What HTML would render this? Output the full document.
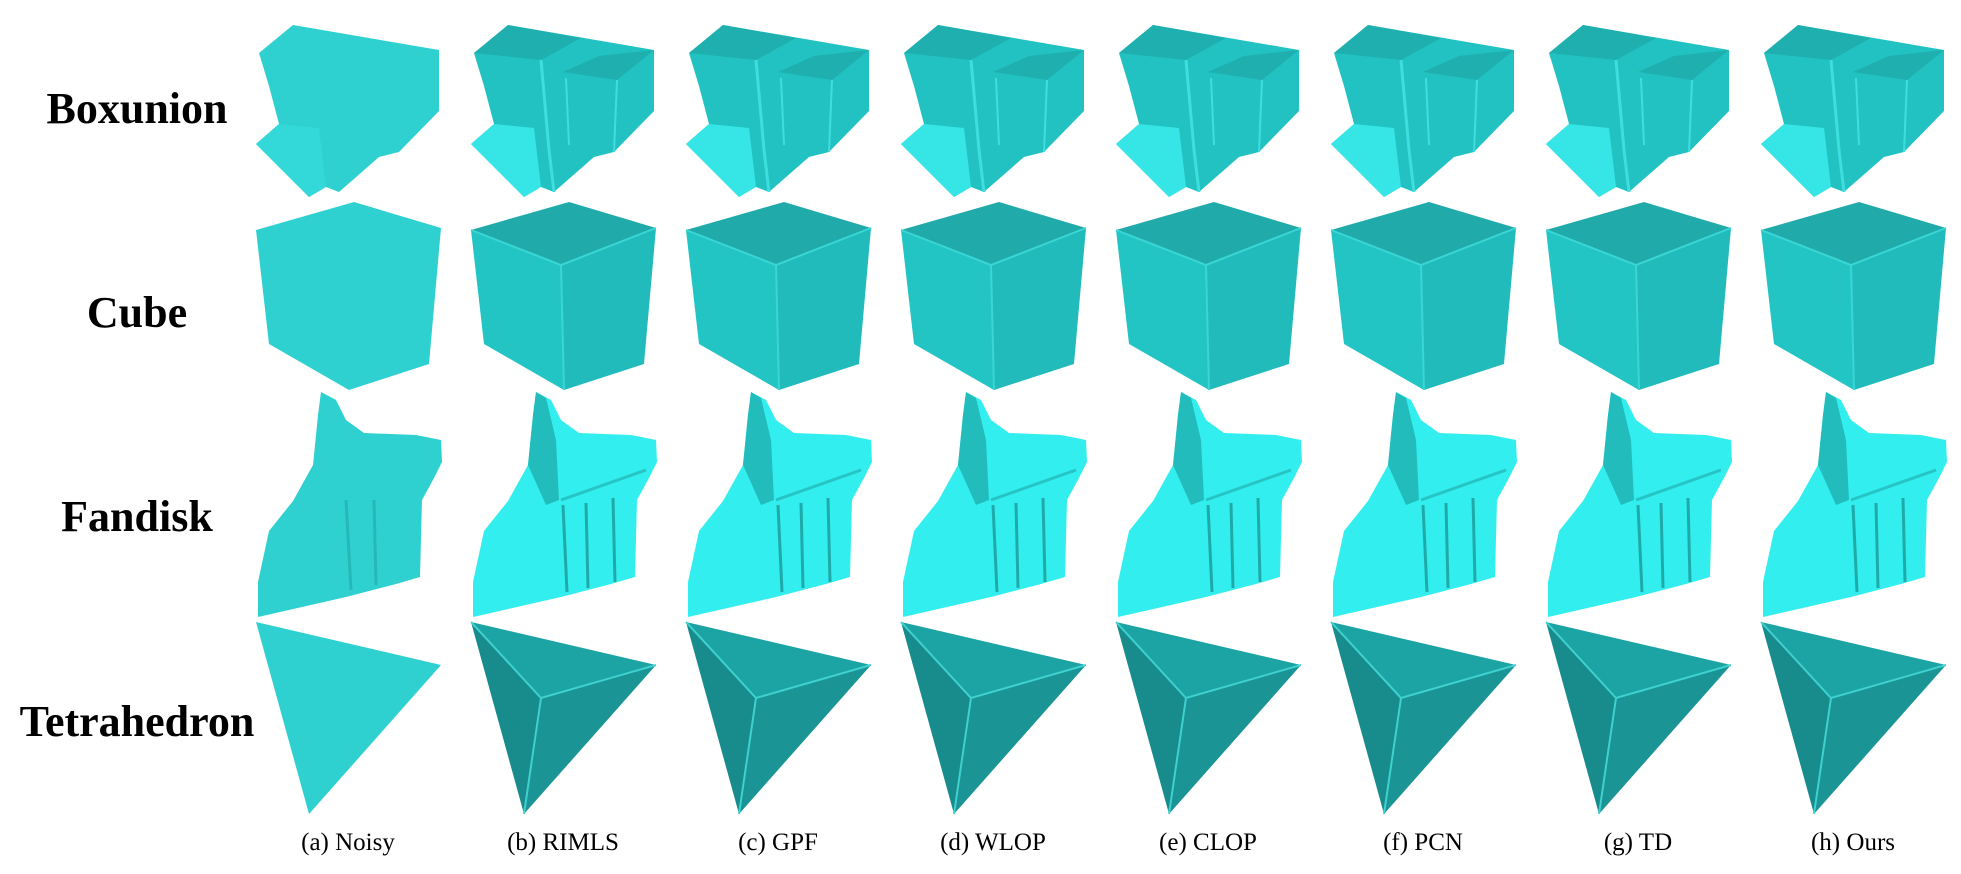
<!DOCTYPE html>
<html><head><meta charset="utf-8"><style>
html,body{margin:0;padding:0;background:#fff;}
svg{display:block;}
.lbl{font-family:"Liberation Serif",serif;font-weight:bold;font-size:44px;fill:#000;}
.cap{font-family:"Liberation Serif",serif;font-size:25px;fill:#000;}
</style></head><body>
<svg id="fig" width="1961" height="874" viewBox="0 0 1961 874">
<g><text class="lbl" x="137" y="123" text-anchor="middle">Boxunion</text></g>
<g><text class="lbl" x="137" y="327" text-anchor="middle">Cube</text></g>
<g><text class="lbl" x="137" y="531" text-anchor="middle">Fandisk</text></g>
<g><text class="lbl" x="137" y="736" text-anchor="middle">Tetrahedron</text></g>
<g id="shapes"></g>
<g id="caps"></g>
</svg>
<script>
const methods = ["(a) Noisy","(b) RIMLS","(c) GPF","(d) WLOP","(e) CLOP","(f) PCN","(g) TD","(h) Ours"];
const rows = ["boxunion","cube","fandisk","tetrahedron"];
const NS="http://www.w3.org/2000/svg";
const shapes=document.getElementById('shapes');
const caps=document.getElementById('caps');
function poly(g,pts,fill,stroke,sw){
  const p=document.createElementNS(NS,'polygon');
  p.setAttribute('points',pts);
  p.setAttribute('fill',fill);
  if(stroke){p.setAttribute('stroke',stroke);p.setAttribute('stroke-width',sw||2);p.setAttribute('stroke-linejoin','round');}
  g.appendChild(p);
}
function line(g,pts,stroke,sw){
  const p=document.createElementNS(NS,'polyline');
  p.setAttribute('points',pts);
  p.setAttribute('fill','none');
  p.setAttribute('stroke',stroke);p.setAttribute('stroke-width',sw);
  g.appendChild(p);
}
function draw(g,row,noisy){
  const N='#2fd0d0';
  if(row==='boxunion'){
    poly(g,"473,53 507,25 653,50 653,111 613,152 593,157 553,192 540,187 523,197 470,144 493,124 483,86",noisy?N:'#22c2c2');
    if(!noisy){
      poly(g,"473,53 507,25 580,38 540,60",'#1fafaf');
      poly(g,"562,72 598,56 653,50 616,80",'#1fafaf');
      line(g,"540,60 548,150 553,192",'#3fdede',3);
      line(g,"616,80 613,152",'#3fdede',2);
      line(g,"565,78 568,145",'#3fdede',2);
      poly(g,"470,144 493,124 533,128 540,187 523,197",'#36e6e6');
    } else {
      poly(g,"470,144 493,124 533,128 540,187 523,197",'#33d8d8');
    }
  } else if(row==='cube'){
    if(noisy){poly(g,"568,202 655,228 643,364 563,390 483,344 470,230",N);return;}
    poly(g,"568,202 655,228 560,265 470,230",'#20aaaa');
    poly(g,"470,230 560,265 563,390 483,344",'#23c4c4');
    poly(g,"560,265 655,228 643,364 563,390",'#21bbbb');
    line(g,"470,230 560,265 655,228",'#3ad6d6',2);
    line(g,"560,265 563,390",'#3ad6d6',2);
  } else if(row==='fandisk'){
    poly(g,"535,392 550,400 560,420 578,433 630,435 655,440 656,462 648,478 636,500 634,577 610,584 560,597 472,617 472,582 483,531 507,501 527,465 532,415",noisy?N:'#33eeee');
    if(!noisy){
      poly(g,"532,415 535,392 545,398 555,440 558,500 545,505 527,465",'#22bcbc');
      line(g,"562,505 566,592",'#1faaaa',3);
      line(g,"585,503 587,588",'#1faaaa',3);
      line(g,"612,498 614,582",'#1faaaa',3);
      line(g,"560,500 645,470",'#26c4c4',3);
    } else {
      line(g,"560,500 565,590",'#26b8b8',3);
      line(g,"588,500 590,585",'#26b8b8',3);
    }
  } else {
    if(noisy){poly(g,"470,622 655,665 523,814",N);return;}
    poly(g,"470,622 655,665 540,698",'#1ca3a3');
    poly(g,"470,622 540,698 523,814",'#188c8c');
    poly(g,"540,698 655,665 523,814",'#1a9494');
    line(g,"470,622 540,698 655,665",'#3fd0d0',2);
    line(g,"540,698 523,814",'#3fd0d0',2);
  }
}
methods.forEach((m,i)=>{
  const left=256+215*i;
  const dx=left-470;
  rows.forEach(r=>{
    const g=document.createElementNS(NS,'g');
    g.setAttribute('transform','translate('+dx+',0)');
    
    
    draw(g,r,i===0);
    shapes.appendChild(g);
  });
  const t=document.createElementNS(NS,'text');
  t.setAttribute('class','cap');
  t.setAttribute('x',left+92);
  t.setAttribute('y',850);
  t.setAttribute('text-anchor','middle');
  t.textContent=m;
  
  
  caps.appendChild(t);
});
</script>
</body></html>
